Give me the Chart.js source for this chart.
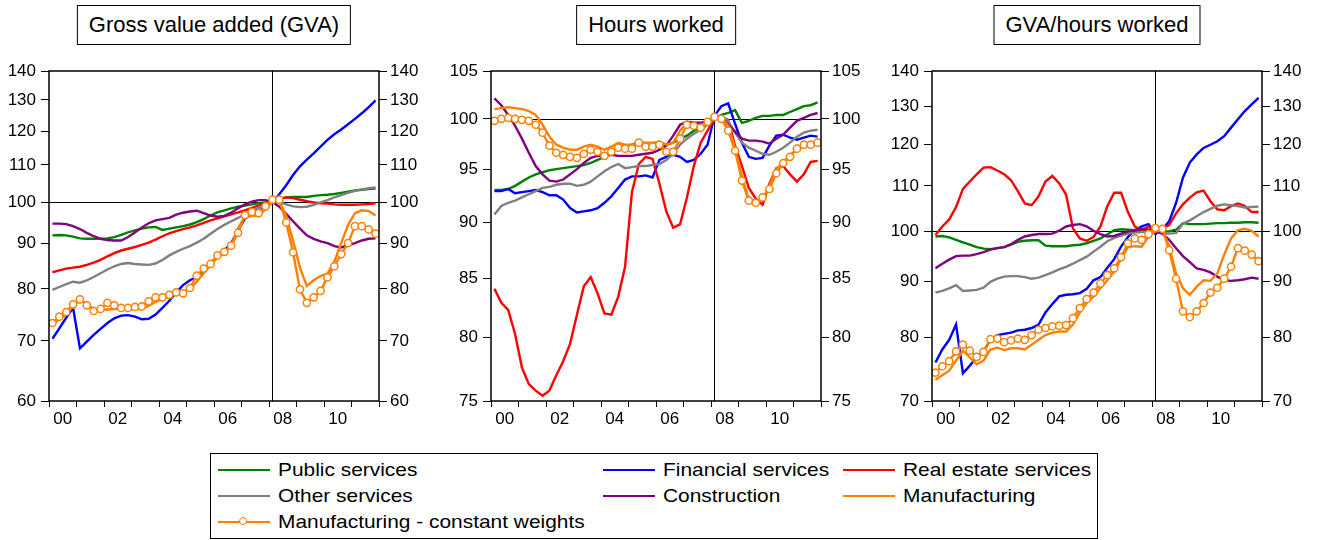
<!DOCTYPE html>
<html>
<head>
<meta charset="utf-8">
<title>GVA, hours worked and GVA per hour by sector</title>
<script src="https://cdn.jsdelivr.net/npm/chart.js@4.4.1/dist/chart.umd.min.js"></script>
<style>
  body { margin: 0; background: #fff; font-family: "Liberation Sans", Arial, sans-serif; color: #000; }
  #page { position: relative; width: 1319px; height: 540px; overflow: hidden; }
  .panel { position: absolute; top: 0; }
  .title { position: absolute; top: 5px; height: 38px; line-height: 38px; padding: 0 11px;
           border: 1px solid #000; font-size: 22px; white-space: nowrap; transform: translateX(-50%); background: #fff; }
  #legend { position: absolute; left: 210px; top: 453px; width: 886px; height: 84px; border: 1px solid #000; }
  .item { position: absolute; height: 26px; line-height: 26px; font-size: 19px; white-space: nowrap; }
  .swatch { position: absolute; left: 0; top: 12px; width: 52px; height: 0; border-top: 2.5px solid; }
  .dot { position: absolute; left: 21px; top: 8px; width: 6px; height: 6px; border-radius: 50%;
         border: 1.5px solid; background: #fff; }
  .item span { position: absolute; left: 60px; top: 0; transform: scaleX(1.1); transform-origin: left center; }
</style>
</head>
<body>
<div id="page">
  <canvas id="c0" class="panel" width="440" height="430" style="left:0px"></canvas>
  <canvas id="c1" class="panel" width="440" height="430" style="left:441px"></canvas>
  <canvas id="c2" class="panel" width="437" height="430" style="left:882px"></canvas>
  <div id="legend"></div>
</div>
<script>
// quarters 2000Q1 .. 2011Q4, base = 2008Q1
const years = ['2000', '2001', '2002', '2003', '2004', '2005', '2006', '2007', '2008', '2009', '2010', '2011'];
const quarters = years.flatMap(y => ['Q1', 'Q2', 'Q3', 'Q4'].map(q => y + q));
const baseQuarter = '2008Q1';
const yearLabels = ['00', '02', '04', '06', '08', '10'];

const seriesNames = ['Public services', 'Financial services', 'Real estate services', 'Other services',
  'Construction', 'Manufacturing', 'Manufacturing - constant weights'];
const seriesColors = ['#008000', '#0000ff', '#ff0000', '#808080', '#800080', '#ff8000', '#ff8000'];

const panelTitles = ['Gross value added (GVA)', 'Hours worked', 'GVA/hours worked'];
const gvaTicks = [60, 70, 80, 90, 100, 110, 120, 130, 140];
const hoursTicks = [75, 80, 85, 90, 95, 100, 105];
const prodTicks = [70, 80, 90, 100, 110, 120, 130, 140];

// Gross value added
const gvaPublic = [91.8, 91.9, 91.8, 91.5, 91.1, 91.0, 91.0, 91.0, 91.1, 91.4, 91.9, 92.5, 93.0, 93.4, 93.7, 93.8,
  93.1, 93.4, 93.7, 94.0, 94.4, 95.0, 95.7, 96.6, 97.4, 97.9, 98.4, 98.8, 99.1, 99.4, 99.7, 99.9,
  100, 100.8, 101.2, 101.3, 101.3, 101.3, 101.6, 101.8, 101.9, 102.1, 102.4, 102.7, 103.0, 103.2, 103.4, 103.5];
const gvaFinancial = [70.4, 72.3, 74.3, 76.2, 68.7, 69.9, 71.1, 72.2, 73.3, 74.2, 74.7, 74.8, 74.5, 74.0, 74.1, 74.9,
  76.2, 77.6, 79.3, 80.8, 81.8, 82.5, 84.0, 85.5, 87.0, 88.3, 90.0, 93.0, 95.8, 97.0, 97.8, 98.6,
  100, 102.0, 104.4, 107.2, 109.6, 111.5, 113.3, 115.3, 117.3, 119.0, 120.5, 122.1, 123.8, 125.6, 127.6, 129.8];
const gvaRealEstate = [83.5, 83.9, 84.3, 84.5, 84.7, 85.1, 85.6, 86.2, 87.0, 87.7, 88.3, 88.7, 89.1, 89.6, 90.1, 90.8,
  91.6, 92.3, 92.8, 93.3, 93.7, 94.2, 94.8, 95.4, 95.9, 96.4, 96.9, 97.4, 97.9, 98.5, 99.1, 99.6,
  100, 100.8, 101.2, 101.0, 100.6, 100.2, 99.9, 99.7, 99.6, 99.4, 99.3, 99.3, 99.3, 99.4, 99.5, 99.7];
const gvaOther = [79.8, 80.4, 81.0, 81.5, 81.3, 81.8, 82.5, 83.3, 84.1, 84.8, 85.3, 85.5, 85.3, 85.2, 85.1, 85.4,
  86.2, 87.2, 88.0, 88.7, 89.3, 90.1, 91.0, 92.2, 93.3, 94.3, 95.2, 96.0, 96.9, 97.8, 98.6, 99.4,
  100, 99.9, 99.4, 98.9, 98.7, 98.8, 99.3, 99.9, 100.5, 101.2, 101.8, 102.4, 102.9, 103.3, 103.6, 103.8];
const gvaConstruction = [94.6, 94.6, 94.5, 94.0, 93.3, 92.4, 91.6, 91.0, 90.7, 90.6, 90.6, 91.4, 92.5, 93.7, 94.7, 95.4,
  95.7, 96.0, 96.8, 97.3, 97.6, 97.8, 97.2, 96.6, 96.3, 96.5, 97.3, 98.4, 99.4, 100.1, 100.5, 100.5,
  100, 98.8, 97.0, 95.2, 93.4, 91.8, 91.0, 90.4, 90.0, 89.3, 89.0, 89.5, 90.0, 90.6, 91.0, 91.1];
const gvaManufacturing = [73.0, 74.0, 75.0, 76.5, 77.8, 77.0, 76.0, 75.8, 75.9, 76.0, 76.0, 76.0, 76.0, 76.0, 76.6, 77.4,
  78.0, 78.6, 79.0, 79.4, 80.0, 81.5, 83.3, 85.0, 86.8, 87.8, 89.5, 93.5, 96.5, 96.6, 96.4, 98.2,
  100, 100.3, 96.5, 90.5, 84.5, 80.6, 81.8, 82.7, 83.2, 85.8, 90.0, 94.3, 97.2, 97.9, 97.7, 96.6];
const gvaManufacturingCW = [73.3, 74.5, 75.4, 76.9, 77.9, 76.7, 75.6, 76.0, 77.2, 76.7, 76.2, 76.2, 76.4, 76.5, 77.5, 78.3,
  78.3, 78.8, 79.3, 79.1, 80.2, 82.8, 84.3, 85.3, 87.2, 88.0, 89.4, 92.4, 96.7, 97.5, 97.2, 98.9,
  100.6, 100.6, 94.9, 87.9, 79.9, 77.2, 78.3, 79.6, 82.4, 84.8, 87.5, 90.0, 94.0, 94.0, 93.2, 92.2];

// Hours worked
const hoursPublic = [93.0, 93.0, 93.1, 93.4, 93.8, 94.2, 94.5, 94.7, 94.9, 95.0, 95.1, 95.2, 95.3, 95.4, 95.6, 95.9,
  96.2, 96.7, 97.0, 97.3, 97.4, 97.4, 97.4, 97.4, 97.4, 97.4, 97.6, 98.0, 98.3, 98.8, 99.1, 99.5,
  100, 100.4, 100.6, 100.9, 99.6, 99.8, 100.1, 100.3, 100.3, 100.4, 100.4, 100.7, 101.0, 101.3, 101.4, 101.7];
const hoursFinancial = [92.9, 92.9, 93.1, 92.7, 92.8, 92.9, 93.0, 92.8, 92.5, 92.5, 92.1, 91.3, 90.9, 91.0, 91.1, 91.3,
  91.8, 92.4, 93.2, 94.0, 94.3, 94.3, 94.4, 94.2, 95.9, 96.2, 96.4, 96.2, 95.7, 95.9, 96.5, 97.4,
  100.3, 101.3, 101.6, 99.5, 97.6, 96.2, 96.0, 96.1, 97.3, 98.3, 98.4, 98.1, 97.9, 98.1, 98.3, 98.2];
const hoursRealEstate = [84.1, 82.9, 82.3, 80.3, 77.6, 76.3, 75.8, 75.4, 75.8, 77.0, 78.1, 79.5, 81.9, 84.3, 85.1, 83.7,
  82.0, 81.9, 83.4, 86.0, 92.8, 95.5, 96.2, 96.0, 93.6, 91.0, 89.5, 89.8, 92.3, 95.3, 97.6, 98.8,
  100, 100.2, 99.9, 97.3, 95.3, 93.2, 92.2, 91.6, 93.6, 95.1, 95.3, 94.5, 93.8, 94.5, 95.7, 95.8];
const hoursOther = [90.7, 91.5, 91.8, 92.0, 92.3, 92.6, 92.9, 93.2, 93.3, 93.5, 93.6, 93.6, 93.4, 93.5, 93.8, 94.3,
  94.8, 95.2, 95.5, 95.1, 95.2, 95.3, 95.3, 95.4, 95.5, 95.9, 96.5, 97.4, 98.0, 98.5, 98.9, 99.4,
  100, 100.3, 99.8, 98.6, 97.6, 97.1, 96.8, 96.5, 96.4, 96.7, 97.1, 97.6, 98.2, 98.6, 98.8, 98.9];
const hoursConstruction = [102.1, 101.4, 100.4, 99.3, 98.0, 96.6, 95.3, 94.5, 93.9, 93.8, 94.0, 94.5, 95.0, 95.6, 96.1, 96.3,
  96.3, 96.4, 96.3, 96.3, 96.3, 96.4, 96.5, 96.6, 96.9, 97.3, 98.3, 99.4, 99.7, 99.6, 99.6, 99.8,
  100, 100.2, 99.4, 98.7, 98.0, 97.8, 97.8, 97.7, 97.5, 98.0, 98.4, 99.1, 99.8, 100.1, 100.4, 100.6];
const hoursManufacturing = [101.0, 101.1, 101.2, 101.1, 101.0, 100.8, 100.4, 99.4, 98.2, 97.4, 97.1, 96.9, 96.9, 97.2, 97.4, 97.2,
  96.9, 97.2, 97.6, 97.4, 97.4, 97.7, 97.6, 97.6, 97.7, 97.4, 97.6, 98.8, 99.6, 99.3, 99.3, 99.6,
  100.3, 100.1, 99.3, 97.1, 94.3, 92.1, 91.8, 92.1, 93.4, 95.0, 95.7, 96.4, 96.9, 97.2, 97.6, 97.6];
const hoursManufacturingCW = [99.8, 100.0, 100.1, 100.0, 99.9, 99.8, 99.4, 98.6, 97.3, 96.6, 96.4, 96.2, 96.1, 96.5, 96.9, 96.7,
  96.3, 96.7, 97.1, 97.0, 97.0, 97.6, 97.2, 97.2, 97.4, 96.7, 96.7, 98.0, 99.4, 99.3, 99.1, 99.7,
  100.2, 100.0, 98.8, 96.8, 93.9, 92.0, 91.8, 92.3, 93.1, 94.6, 95.6, 96.2, 97.0, 97.4, 97.4, 97.6];

// GVA per hour worked
const prodPublic = [98.9, 99.0, 98.7, 98.2, 97.7, 97.2, 96.7, 96.4, 96.3, 96.5, 96.7, 97.2, 97.8, 98.0, 98.1, 98.1,
  97.0, 96.9, 96.9, 96.9, 97.1, 97.2, 97.5, 98.0, 98.5, 99.3, 100.2, 100.4, 100.3, 100.2, 100.2, 100.1,
  100, 99.9, 100.0, 100.3, 101.7, 101.5, 101.5, 101.5, 101.6, 101.7, 101.7, 101.8, 101.8, 101.9, 101.9, 101.8];
const prodFinancial = [75.9, 78.0, 79.6, 82.2, 74.2, 75.4, 76.7, 77.7, 79.6, 80.4, 80.6, 80.8, 81.2, 81.3, 81.6, 82.2,
  84.3, 85.8, 87.2, 87.5, 87.6, 87.8, 88.6, 90.2, 90.8, 92.6, 94.3, 96.8, 98.8, 100.2, 101.0, 101.5,
  99.4, 100.4, 102.1, 106.1, 111.9, 115.5, 117.5, 119.1, 119.9, 120.8, 122.1, 124.3, 126.5, 128.7, 130.5, 132.3];
const prodRealEstate = [99.2, 101.0, 102.5, 105.2, 109.3, 111.0, 112.7, 114.3, 114.4, 113.6, 112.7, 111.3, 108.7, 106.0, 105.6, 107.6,
  111.0, 112.3, 110.6, 108.0, 100.6, 98.5, 98.0, 98.8, 101.0, 105.4, 108.4, 108.4, 104.1, 101.0, 100.2, 101.0,
  100, 100.6, 101.3, 103.8, 105.8, 107.3, 108.5, 108.9, 106.5, 104.7, 104.5, 105.4, 106.0, 105.4, 104.1, 104.1];
const prodOther = [87.9, 88.2, 88.7, 89.3, 88.2, 88.3, 88.4, 88.8, 89.9, 90.5, 90.9, 91.0, 91.0, 90.8, 90.5, 90.7,
  91.2, 91.7, 92.3, 92.8, 93.4, 94.1, 94.8, 95.8, 96.8, 97.9, 98.6, 99.1, 99.5, 99.7, 99.8, 99.8,
  100, 99.5, 99.5, 99.6, 101.6, 102.3, 103.2, 104.1, 104.8, 105.5, 105.8, 105.6, 105.4, 105.1, 105.2, 105.3];
const prodConstruction = [92.5, 93.4, 94.2, 94.9, 95.0, 95.0, 95.3, 95.7, 96.2, 96.5, 96.7, 97.3, 98.2, 98.9, 99.2, 99.4,
  99.4, 99.5, 100.1, 101.0, 101.3, 101.5, 101.0, 100.1, 99.4, 98.9, 99.0, 99.5, 99.9, 100.2, 100.5, 100.3,
  100, 99.5, 98.2, 96.5, 94.9, 93.7, 92.5, 92.2, 91.7, 90.9, 90.2, 90.1, 90.2, 90.4, 90.7, 90.5];
const prodManufacturing = [73.2, 73.9, 74.6, 76.2, 77.8, 76.7, 75.6, 76.2, 78.0, 78.3, 77.9, 78.2, 78.2, 78.0, 78.8, 79.6,
  80.4, 80.8, 81.0, 81.0, 82.2, 84.3, 86.0, 87.2, 88.7, 90.2, 91.9, 94.3, 96.7, 96.9, 96.8, 98.9,
  100, 100.2, 96.9, 91.5, 88.7, 87.5, 89.0, 90.2, 90.1, 91.5, 95.2, 98.5, 100.2, 100.5, 100.1, 98.9];
const prodManufacturingCW = [74.3, 75.3, 76.1, 77.7, 78.8, 77.8, 76.8, 77.6, 79.7, 79.8, 79.2, 79.5, 79.8, 79.6, 80.4, 81.3,
  81.6, 81.9, 82.0, 82.1, 83.3, 85.1, 86.7, 87.9, 89.6, 91.2, 92.5, 94.7, 97.5, 98.5, 98.2, 99.4,
  100.7, 100.5, 96.1, 90.5, 84.5, 83.5, 84.5, 86.0, 87.9, 88.8, 90.5, 92.8, 96.5, 96.0, 95.2, 93.9];

const panels = [
  { canvas: 'c0', ticks: gvaTicks, leftW: 49,
    series: [gvaPublic, gvaFinancial, gvaRealEstate, gvaOther, gvaConstruction, gvaManufacturing, gvaManufacturingCW] },
  { canvas: 'c1', ticks: hoursTicks, leftW: 50,
    series: [hoursPublic, hoursFinancial, hoursRealEstate, hoursOther, hoursConstruction, hoursManufacturing, hoursManufacturingCW] },
  { canvas: 'c2', ticks: prodTicks, leftW: 50,
    series: [prodPublic, prodFinancial, prodRealEstate, prodOther, prodConstruction, prodManufacturing, prodManufacturingCW] }
];

const PLOT_W = 330, PLOT_TOP = 71, X_AXIS_H = 29;
const tickFont = { family: 'Liberation Sans', size: 17 };

// reference lines at 100 and at the base quarter, plus the box round the plot
const framePlugin = {
  id: 'frame',
  beforeDatasetsDraw(chart) {
    const { ctx, chartArea: a, scales } = chart;
    const y = Math.round(scales.y.getPixelForValue(100)) + 0.5;
    const x = Math.round(scales.x.getPixelForValue(quarters.indexOf(baseQuarter))) + 0.5;
    ctx.save();
    ctx.strokeStyle = '#000';
    ctx.lineWidth = 1;
    ctx.beginPath();
    ctx.moveTo(a.left, y); ctx.lineTo(a.right, y);
    ctx.moveTo(x, a.top); ctx.lineTo(x, a.bottom);
    ctx.stroke();
    ctx.restore();
  },
  afterDraw(chart) {
    const { ctx, chartArea: a } = chart;
    ctx.save();
    ctx.strokeStyle = '#000';
    ctx.lineWidth = 1.5;
    ctx.strokeRect(a.left, a.top, a.right - a.left, a.bottom - a.top);
    ctx.restore();
  }
};

function yAxis(position, tickValues, width) {
  return {
    type: 'logarithmic',
    position: position,
    min: tickValues[0],
    max: tickValues[tickValues.length - 1],
    afterBuildTicks: s => { s.ticks = tickValues.map(v => ({ value: v })); },
    afterFit: s => { s.width = width; },
    border: { display: false },
    grid: { drawOnChartArea: false, tickLength: 8, color: '#000', tickColor: '#000', lineWidth: 1 },
    ticks: { autoSkip: false, font: tickFont, color: '#000', padding: position === 'left' ? 5 : 3,
             callback: v => String(v) }
  };
}

function xAxis() {
  const last = quarters.length - 0.5;
  return {
    type: 'linear',
    min: -0.5,
    max: last,
    afterBuildTicks: s => {
      const t = [];
      for (let v = -0.5; v <= last; v += 2) t.push({ value: v });
      s.ticks = t;
    },
    afterFit: s => { s.height = X_AXIS_H; },
    border: { display: false },
    grid: {
      drawOnChartArea: false, tickLength: 6, lineWidth: 1,
      tickColor: ctx => (ctx.tick && (ctx.tick.value + 0.5) % 4 === 0) ? '#000' : 'rgba(0,0,0,0)'
    },
    ticks: {
      autoSkip: false, maxRotation: 0, minRotation: 0, padding: 2, font: tickFont, color: '#000',
      callback: v => {
        const y = (v - 1.5) / 4;
        if (Number.isInteger(y) && y % 2 === 0) return yearLabels[y / 2];
        return '';
      }
    }
  };
}

panels.forEach((p, n) => {
  const canvas = document.getElementById(p.canvas);
  const rightW = canvas.width - p.leftW - PLOT_W;

  const title = document.createElement('div');
  title.className = 'title';
  title.textContent = panelTitles[n];
  title.style.left = (parseFloat(canvas.style.left) + p.leftW + PLOT_W / 2) + 'px';
  document.getElementById('page').appendChild(title);

  new Chart(canvas, {
    type: 'line',
    data: {
      datasets: p.series.map((vals, k) => ({
        label: seriesNames[k],
        data: vals.map((v, i) => ({ x: i, y: v })),
        borderColor: seriesColors[k],
        borderWidth: 2.4,
        tension: 0,
        pointRadius: k === 6 ? 3.6 : 0,
        pointBackgroundColor: '#fff',
        pointBorderColor: seriesColors[k],
        pointBorderWidth: 1.5,
        order: p.series.length - k
      }))
    },
    options: {
      responsive: false,
      animation: false,
      events: [],
      layout: { padding: { top: PLOT_TOP, left: 0, right: 0, bottom: 0 } },
      plugins: { legend: { display: false }, tooltip: { enabled: false } },
      scales: {
        x: xAxis(),
        y: yAxis('left', p.ticks, p.leftW),
        y2: yAxis('right', p.ticks, rightW)
      }
    },
    plugins: [framePlugin]
  });
});

// shared legend below the three panels
const legend = document.getElementById('legend');
const legendCols = [7, 392, 632];
const legendRows = [3, 29, 55];
seriesNames.forEach((name, k) => {
  const item = document.createElement('div');
  item.className = 'item';
  item.style.left = legendCols[k % 3] + 'px';
  item.style.top = legendRows[Math.floor(k / 3)] + 'px';
  let html = '<div class="swatch" style="border-color:' + seriesColors[k] + '"></div>';
  if (k === 6) html += '<div class="dot" style="border-color:' + seriesColors[k] + '"></div>';
  html += '<span>' + name + '</span>';
  item.innerHTML = html;
  legend.appendChild(item);
});
</script>
</body>
</html>
